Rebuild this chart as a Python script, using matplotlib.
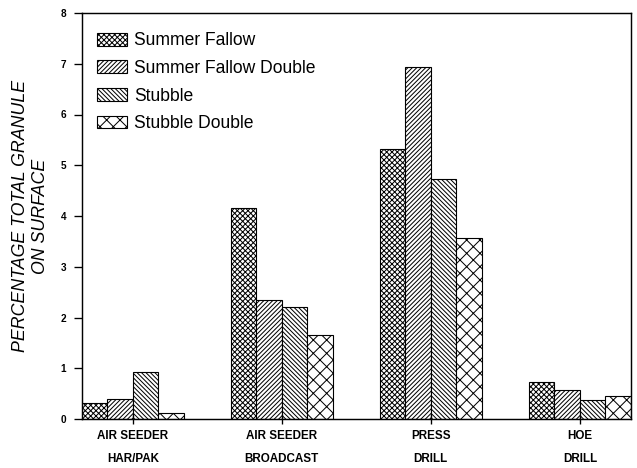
import numpy as np
import matplotlib
matplotlib.use("Agg")
import matplotlib.pyplot as plt

plt.rcParams['font.family'] = ['Liberation Sans', 'DejaVu Sans']
plt.rcParams['hatch.linewidth'] = 0.9

methods = ['AIR SEEDER\nHAR/PAK', 'AIR SEEDER\nBROADCAST', 'PRESS\nDRILL', 'HOE\nDRILL']
series = ['Summer Fallow', 'Summer Fallow Double', 'Stubble', 'Stubble Double']
summer_fallow = [0.31, 4.16, 5.32, 0.73]
summer_fallow_double = [0.39, 2.34, 6.94, 0.58]
stubble = [0.92, 2.21, 4.72, 0.37]
stubble_double = [0.12, 1.65, 3.56, 0.45]
y_ticks = [0, 1, 2, 3, 4, 5, 6, 7, 8]

values = [summer_fallow, summer_fallow_double, stubble, stubble_double]
hatches = ['xxxxx', '//////', '\\' * 6, 'xx']

dpi = 80
fig = plt.figure(figsize=(637 / dpi, 468 / dpi), dpi=dpi)
ax = fig.add_axes([81.7 / 637, 1 - 419 / 468, (631 - 81.7) / 637, (419 - 13) / 468])

x = np.arange(len(methods))
w = 0.1715
for i, (vals, name, h) in enumerate(zip(values, series, hatches)):
    ax.bar(x + (i - 1.5) * w, vals, w, label=name, color='white',
           edgecolor='black', linewidth=1.0, hatch=h)

ax.set_xlim(-2 * w, 3 + 2 * w)
ax.set_ylim(0, 8)
ax.set_yticks(y_ticks)
ax.set_yticklabels([str(t) for t in y_ticks], fontsize=9, fontweight='bold')
ax.set_xticks(x)
ax.set_xticklabels(methods, fontsize=10.5, fontweight='bold', linespacing=2.3)
ax.tick_params(axis='y', direction='out', length=7, width=1.2, pad=7)
ax.tick_params(axis='x', direction='inout', length=9, width=1.2, pad=5)
for s in ax.spines.values():
    s.set_linewidth(1.3)

ax.set_ylabel('PERCENTAGE TOTAL GRANULE\nON SURFACE', fontsize=16,
              fontstyle='italic', linespacing=1.25, labelpad=10)

ax.legend(loc='upper left', bbox_to_anchor=(0.028, 0.952), frameon=False,
          fontsize=15.8, handlelength=1.7, handleheight=0.75, handletextpad=0.4,
          labelspacing=0.6, borderpad=0, borderaxespad=0)

fig.savefig('out.png', dpi=dpi)
